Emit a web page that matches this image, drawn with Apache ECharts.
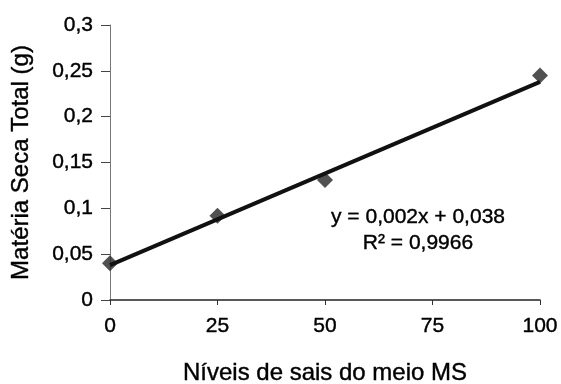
<!DOCTYPE html>
<html>
<head>
<meta charset="utf-8">
<script src="https://cdn.jsdelivr.net/npm/echarts@6/dist/echarts.min.js"></script>
<style>
  html, body { margin: 0; padding: 0; background: #fff; }
  #chart { width: 561px; height: 384px; }
</style>
</head>
<body>
<div id="chart"></div>
<script>
// Níveis de sais do meio MS (%) and measured total dry matter (g)
const saltLevels = [0, 25, 50, 100];
const dryMatter = [0.040, 0.092, 0.131, 0.245];

// Linear fit reported on the chart
const fitSlope = 0.002;
const fitIntercept = 0.038;
const fitR2 = '0,9966';

const xTicks = [0, 25, 50, 75, 100];
const yTicks = [0, 0.05, 0.1, 0.15, 0.2, 0.25, 0.3];

const FONT = 'Liberation Sans, Arial, sans-serif';
const fmt = v => String(Number(v.toFixed(3))).replace('.', ',');
// slightly heavier strokes for all text
const ink = { color: '#000', textBorderColor: '#000', textBorderWidth: 0.4 };

const points = saltLevels.map((x, i) => [x, dryMatter[i]]);
const xMin = xTicks[0], xMax = xTicks[xTicks.length - 1];
const fitLine = [xMin, xMax].map(x => [x, fitIntercept + fitSlope * x]);

const chart = echarts.init(document.getElementById('chart'), null, { renderer: 'canvas' });
chart.setOption({
  backgroundColor: '#ffffff',
  animation: false,
  grid: { left: 110, right: 21, top: 25, bottom: 84, outerBoundsMode: 'none', containLabel: false },
  xAxis: {
    type: 'value',
    min: xMin, max: xMax, interval: xTicks[1] - xTicks[0],
    name: 'Níveis de sais do meio MS',
    nameLocation: 'middle',
    nameGap: 61,
    nameTextStyle: Object.assign({ fontFamily: FONT, fontSize: 24 }, ink),
    axisLine: { lineStyle: { color: '#222', width: 1.5 } },
    axisTick: { show: true, length: 5, lineStyle: { color: '#333' } },
    axisLabel: Object.assign({ fontFamily: FONT, fontSize: 21, margin: 16, formatter: v => fmt(v) }, ink),
    splitLine: { show: false }
  },
  yAxis: {
    type: 'value',
    min: yTicks[0], max: yTicks[yTicks.length - 1], interval: yTicks[1] - yTicks[0],
    name: 'Matéria Seca Total (g)',
    nameLocation: 'middle',
    nameGap: 77,
    nameRotate: 90,
    nameTextStyle: Object.assign({ fontFamily: FONT, fontSize: 24 }, ink),
    axisLine: { show: true, lineStyle: { color: '#777', width: 1 } },
    axisTick: { show: true, length: 9, lineStyle: { color: '#444' } },
    axisLabel: Object.assign({ fontFamily: FONT, fontSize: 21, margin: 17, formatter: v => fmt(v) }, ink),
    splitLine: { show: false }
  },
  series: [
    {
      type: 'scatter',
      data: points,
      symbol: 'diamond',
      symbolSize: 16,
      itemStyle: { color: '#262626' },
      z: 2
    },
    {
      type: 'line',
      data: fitLine,
      symbol: 'none',
      lineStyle: { color: '#111', width: 4 },
      z: 3
    }
  ],
  graphic: [
    {
      type: 'text',
      x: 418, y: 204,
      style: {
        text: 'y = 0,002x + 0,038\nR² = ' + fitR2,
        fontFamily: FONT, fontSize: 21, lineHeight: 26,
        fill: '#000', stroke: '#000', lineWidth: 0.4,
        align: 'center', verticalAlign: 'top'
      }
    }
  ]
});
</script>
</body>
</html>
